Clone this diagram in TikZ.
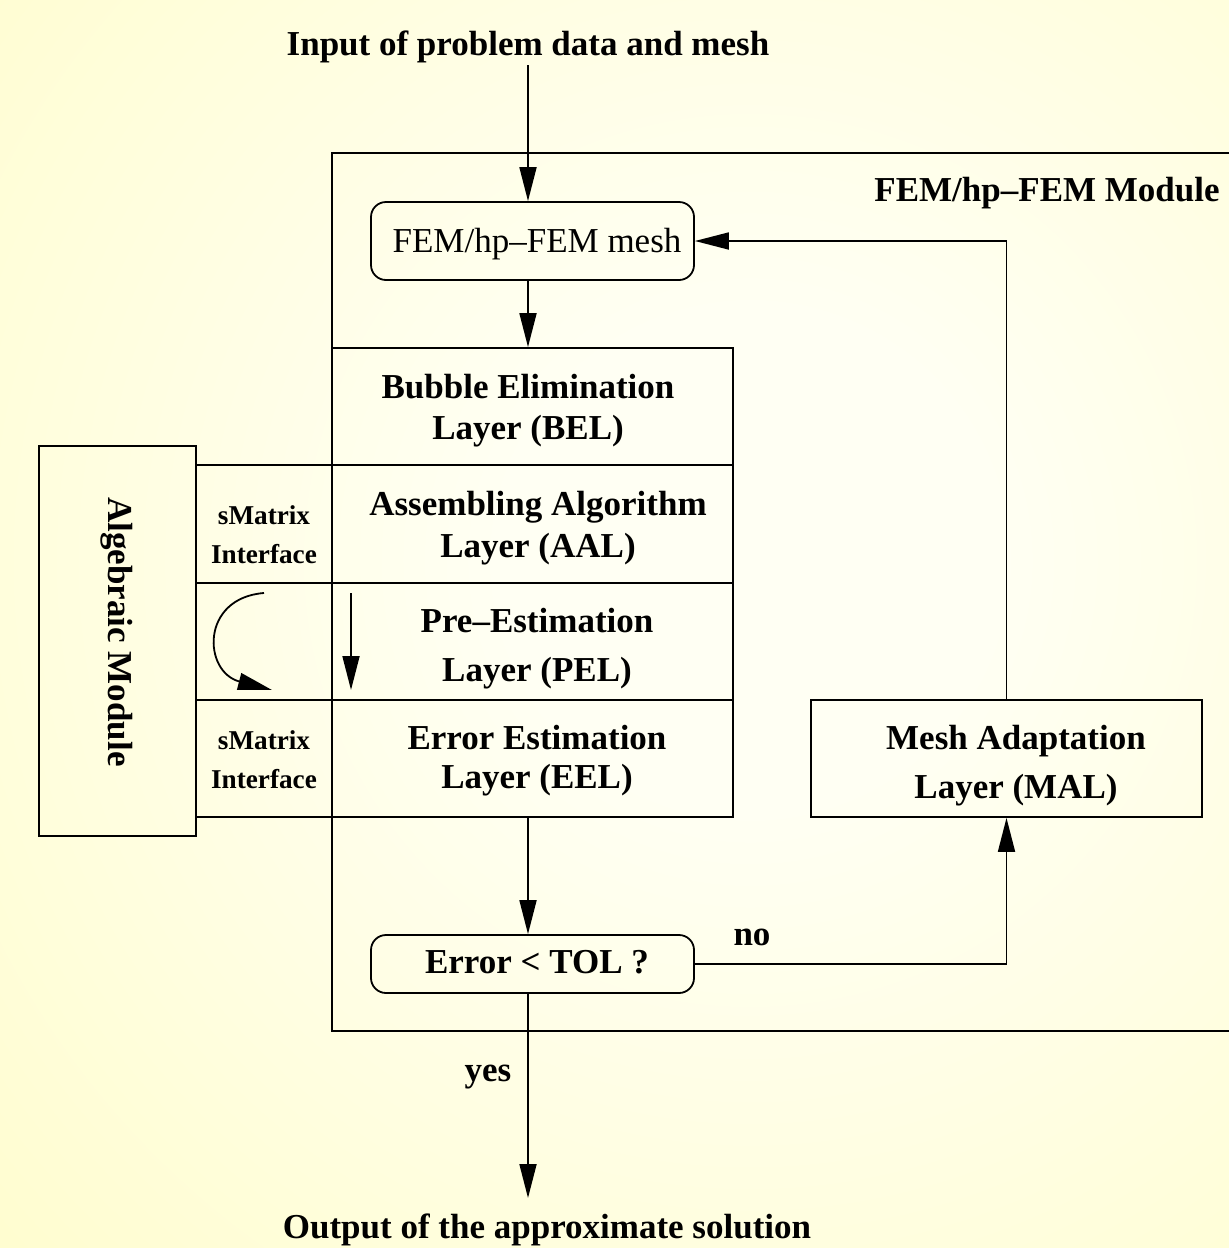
\documentclass[tikz,border=0pt]{standalone}
\usepackage{fontspec}
\setmainfont{Liberation Serif}
\usetikzlibrary{arrows.meta,calc}
\definecolor{bgout}{HTML}{FFFBAA}
\definecolor{bgin}{HTML}{FFFFF3}
\pgfdeclareradialshading{bgshade}{\pgfpoint{0bp}{0bp}}{color(0bp)=(bgin); color(6bp)=(bgin); color(44bp)=(bgout); color(50bp)=(bgout)}
\begin{document}
\begin{tikzpicture}[x=0.5pt,y=-0.5pt,
  ln/.style={line width=0.9pt},
  arr/.style={ln,-{Triangle[length=17pt,width=8.5pt]}},
  box/.style={draw,ln,inner sep=0pt},
  big/.style={font=\bfseries\fontsize{17.5}{20.5}\selectfont,align=center,inner sep=0pt},
  small/.style={font=\bfseries\fontsize{13.6}{19.5}\selectfont,align=center,inner sep=0pt}]
\useasboundingbox (0,0) rectangle (1229,1248);
\begin{scope}
\clip (0,0) rectangle (1229,1248);
\shade[shading=bgshade] (-290,-480) rectangle (1790,1600);
\end{scope}

% module frame
\node[box,minimum width=454pt,minimum height=439pt] (mod) at (786,592) {};
\node[big,anchor=base east] (modlbl) at (1220,201) {FEM/hp–FEM Module};

% title and output
\node[big,anchor=base] (in) at (528,55) {Input of problem data and mesh};
\coordinate (inbot) at (528,65);
\node[big,anchor=base] (out) at (547,1238) {Output of the approximate solution};
\coordinate (outtop) at (528,1198);

% mesh box
\node[box,rounded corners=7.5pt,minimum width=161.5pt,minimum height=39pt] (mesh) at (532.5,241) {};
\node[inner sep=0pt,font=\fontsize{17.5}{20.5}\selectfont,anchor=base] (meshlbl) at (537,252) {FEM/hp–FEM mesh};

% layers
\node[box,minimum width=200.5pt,minimum height=58.5pt] (bel) at (532.5,406.5) {};
\node[box,minimum width=200.5pt,minimum height=59pt] (aal) at (532.5,524) {};
\node[box,minimum width=200.5pt,minimum height=58.5pt] (pel) at (532.5,641.5) {};
\node[box,minimum width=200.5pt,minimum height=58.5pt] (eel) at (532.5,758.5) {};
\node[big] (bellbl) at (528,411) {Bubble Elimination\\Layer (BEL)};
\node[big] (aallbl) at (538,528) {Assembling Algorithm\\[0.5pt]Layer (AAL)};
\node[big] (pellbl) at (537,649) {Pre–Estimation\\[4pt]Layer (PEL)};
\node[big] (eellbl) at (537,761) {Error Estimation\\[-1pt]Layer (EEL)};

% interfaces
\node[box,minimum width=68pt,minimum height=59pt] (if1) at (264,524) {};
\node[box,minimum width=68pt,minimum height=58.5pt] (ifm) at (264,641.5) {};
\node[box,minimum width=68pt,minimum height=58.5pt] (if2) at (264,758.5) {};
\node[small] (if1lbl) at (264,535) {sMatrix\\Interface};
\node[small] (if2lbl) at (264,760) {sMatrix\\Interface};

% algebraic module
\node[box,minimum width=78.5pt,minimum height=195pt] (alg) at (117.5,641) {};
\node[big,rotate=-90] (alglbl) at (117,632) {Algebraic Module};

% MAL
\node[box,minimum width=195.5pt,minimum height=58.5pt] (mal) at (1006.5,758.5) {};
\node[big] (mallbl) at (1016,766) {Mesh Adaptation\\[4pt]Layer (MAL)};

% error test
\node[box,rounded corners=7.5pt,minimum width=161.5pt,minimum height=29pt] (err) at (532.5,964) {};
\node[big,anchor=base] (errlbl) at (537,973) {Error < TOL ?};
\node[big,anchor=base] (no) at (752,945) {no};
\node[big,anchor=base] (yes) at (488,1081) {yes};

% connectors
\draw[arr] (inbot) -- (inbot |- mesh.north);
\draw[arr] (inbot |- mesh.south) -- (inbot |- bel.north);
\draw[arr] (inbot |- eel.south) -- (inbot |- err.north);
\draw[ln] (inbot |- err.south) -- (inbot |- mod.south);
\draw[arr] (inbot |- mod.south) -- (outtop);
\draw[arr] (err.east) -| (mal.south);
\draw[arr] (mal.north) |- (mesh.east);

% internal arrows
\coordinate (pa) at (351,593);
\coordinate (pb) at (351,690);
\draw[arr] (pa) -- (pb);
\coordinate (ca) at (264,593);
\coordinate (cb) at (272,690);
\draw[arr] (ca) .. controls (200,598) and (203,672) .. (cb);
\end{tikzpicture}
\end{document}
